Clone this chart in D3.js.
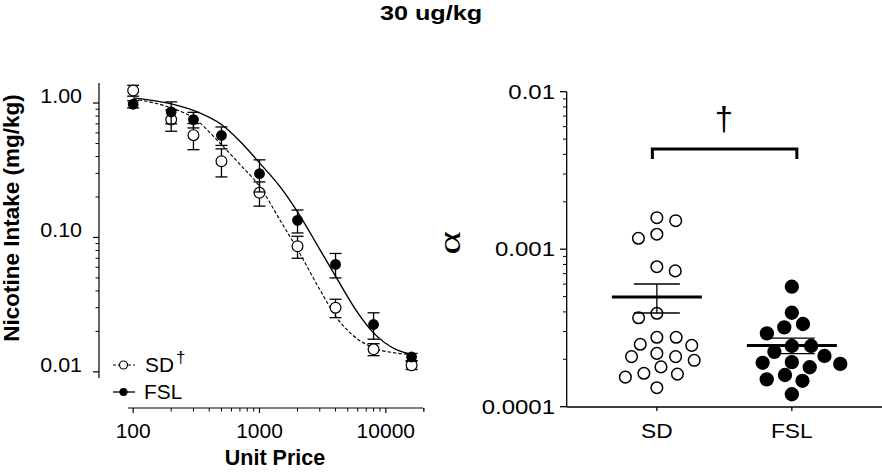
<!DOCTYPE html>
<meta charset="utf-8">
<style>
  body { margin: 0; background: #fff; }
  svg { display: block; }
  text { font-family: "Liberation Sans", Arial, sans-serif; fill: #000; }
</style>
<svg width="882" height="472"></svg>
<script src="https://cdn.jsdelivr.net/npm/d3@7"></script>
<script>

// demand curve data (unit price vs nicotine intake)
var prices = [100, 200, 300, 500, 1000, 2000, 4000, 8000, 16000];
var sdMean = [1.24, 0.753, 0.577, 0.369, 0.215, 0.086, 0.030, 0.0147, 0.0112];
var sdSem = [0.115, 0.136, 0.127, 0.087, 0.044, 0.016, 0.0047, 0.0015, 0.0008];
var fslMean = [0.98, 0.86, 0.753, 0.574, 0.298, 0.134, 0.063, 0.0225, 0.0129];
var fslSem = [0.06, 0.16, 0.10, 0.09, 0.08, 0.026, 0.013, 0.005, 0.0008];

// fitted curves
var curvePrices = [100, 200, 300, 500, 700, 1000, 1500, 2000, 3000, 4000, 6000, 8000, 12000, 16000];
var sdFit = [1.074, 0.92, 0.776, 0.49, 0.35, 0.24, 0.128, 0.0815, 0.041, 0.026, 0.0175, 0.0151, 0.0138, 0.0135];
var fslFit = [1.093, 0.986, 0.883, 0.692, 0.52, 0.359, 0.23, 0.155, 0.0815, 0.0515, 0.0275, 0.0195, 0.0147, 0.0135];

// alpha values per rat
var groups = ["SD", "FSL"];
var sdAlpha = [0.001585, 0.001517, 0.001245, 0.001173, 0.000774, 0.000728, 0.000392, 0.000367,
  0.000276, 0.000276, 0.000249, 0.000245, 0.000218, 0.000208, 0.000208, 0.000197, 0.000179,
  0.000163, 0.000161, 0.000154, 0.000132];
var fslAlpha = [0.000578, 0.000395, 0.000335, 0.000319, 0.000292, 0.000243, 0.000243, 0.000223,
  0.000210, 0.000190, 0.000192, 0.000187, 0.000178, 0.000159, 0.000146, 0.000149, 0.000120];

var leftYTicks = [0.01, 0.1, 1];
var leftYLabels = ["0.01", "0.10", "1.00"];
var leftXTicks = [100, 1000, 10000];
var rightYTicks = [0.0001, 0.001, 0.01];
var rightYLabels = ["0.0001", "0.001", "0.01"];

var svg = d3.select("svg");

function label(g, x, y, s, size, o) {
  o = o || {};
  return g.append("text")
      .attr("transform", "translate(" + x + "," + y + ")" + (o.rot ? " rotate(" + o.rot + ")" : "") + " scale(" + (o.sx || 1) + ",1)")
      .attr("text-anchor", o.anchor || "middle")
      .style("font-size", size + "px")
      .style("font-weight", o.bold ? "bold" : null)
      .style("font-family", o.family || null)
      .text(s);
}

label(svg, 431, 20, "30 ug/kg", 21, {bold: true, sx: 1.2});

// ---------- left panel ----------
var x = d3.scaleLog().domain([91, 19700]).range([128, 423]);
var y = d3.scaleLog().domain([0.009, 1.41]).range([378, 83]);

var left = svg.append("g");

var minorY = [];
[0.01, 0.1].forEach(function(d) { for (var i = 2; i <= 9; i++) minorY.push(d * i); });
var minorX = [];
[100, 1000, 10000].forEach(function(d) { for (var i = 2; i <= 9; i++) if (d * i <= 20000) minorX.push(d * i); });
minorX.push(20000);

left.append("line").attr("x1", 99).attr("x2", 99).attr("y1", 83).attr("y2", 378).attr("stroke", "#000").attr("stroke-width", 1.2);
left.selectAll(".ymaj").data(leftYTicks).enter().append("line")
    .attr("x1", 93).attr("x2", 99).attr("y1", y).attr("y2", y).attr("stroke", "#000").attr("stroke-width", 1.2);
left.selectAll(".ymin").data(minorY).enter().append("line")
    .attr("x1", 95.5).attr("x2", 99).attr("y1", y).attr("y2", y).attr("stroke", "#000").attr("stroke-width", 1);
leftYTicks.forEach(function(d, i) { label(left, 82, y(d), leftYLabels[i], 19.5, {anchor: "end", sx: 1.1}); });

left.append("line").attr("x1", 128).attr("x2", 423).attr("y1", 408).attr("y2", 408).attr("stroke", "#000").attr("stroke-width", 1.2);
left.selectAll(".xmaj").data(leftXTicks).enter().append("line")
    .attr("x1", x).attr("x2", x).attr("y1", 408).attr("y2", 413).attr("stroke", "#000").attr("stroke-width", 1.2);
left.selectAll(".xmin").data(minorX).enter().append("line")
    .attr("x1", x).attr("x2", x).attr("y1", 408).attr("y2", 411.5).attr("stroke", "#000").attr("stroke-width", 1);
leftXTicks.forEach(function(d) { label(left, x(d), 438, String(d), 20, {sx: 1.05}); });

label(left, 275, 465, "Unit Price", 21.5, {bold: true});
label(left, 19, 218, "Nicotine Intake (mg/kg)", 22.5, {bold: true, rot: -90});

var line = d3.line().x(function(d) { return x(d[0]); }).y(function(d) { return y(d[1]); }).curve(d3.curveMonotoneX);

left.append("path").datum(d3.zip(curvePrices, sdFit)).attr("d", line)
    .attr("fill", "none").attr("stroke", "#000").attr("stroke-width", 1.1).attr("stroke-dasharray", "3.5,2");
left.append("path").datum(d3.zip(curvePrices, fslFit)).attr("d", line)
    .attr("fill", "none").attr("stroke", "#000").attr("stroke-width", 1.4);

function errbars(means, sems, filled) {
  var g = left.append("g");
  prices.forEach(function(p, i) {
    var cx = x(p), top = y(means[i] + sems[i]), bot = y(Math.max(means[i] - sems[i], 1e-4));
    g.append("line").attr("x1", cx).attr("x2", cx).attr("y1", top).attr("y2", bot).attr("stroke", "#000").attr("stroke-width", 1.3);
    [top, bot].forEach(function(v) {
      g.append("line").attr("x1", cx - 6).attr("x2", cx + 6).attr("y1", v).attr("y2", v).attr("stroke", "#000").attr("stroke-width", 1.3);
    });
  });
  g.selectAll("circle").data(means).enter().append("circle")
      .attr("cx", function(d, i) { return x(prices[i]); })
      .attr("cy", y)
      .attr("r", filled ? 4.8 : 5.4)
      .attr("fill", filled ? "#000" : "#fff")
      .attr("stroke", "#000").attr("stroke-width", 1.2);
}
errbars(sdMean, sdSem, false);
errbars(fslMean, fslSem, true);

// legend
left.append("line").attr("x1", 113).attr("x2", 135).attr("y1", 365).attr("y2", 365).attr("stroke", "#000").attr("stroke-dasharray", "3,2");
left.append("circle").attr("cx", 123.5).attr("cy", 365).attr("r", 4).attr("fill", "#fff").attr("stroke", "#000").attr("stroke-width", 1.2);
label(left, 145, 372, "SD", 19.5, {anchor: "start", sx: 1.07});
label(left, 176, 363, "\u2020", 17, {anchor: "start"});
left.append("line").attr("x1", 113).attr("x2", 135).attr("y1", 392).attr("y2", 392).attr("stroke", "#000").attr("stroke-width", 1.3);
left.append("circle").attr("cx", 123.5).attr("cy", 392).attr("r", 4).attr("fill", "#000");
label(left, 144, 399, "FSL", 19.5, {anchor: "start", sx: 1.07});

// ---------- right panel ----------
var xb = d3.scalePoint().domain(groups).range([566.7, 882]).padding(0.668);
var ya = d3.scaleLog().domain([0.0001, 0.01]).range([406.7, 91.7]);
var right = svg.append("g");

var minorA = [];
[0.0001, 0.001].forEach(function(d) { for (var i = 2; i <= 9; i++) minorA.push(d * i); });

right.append("line").attr("x1", 566.7).attr("x2", 566.7).attr("y1", 91.7).attr("y2", 407).attr("stroke", "#000").attr("stroke-width", 1.3);
right.append("line").attr("x1", 566.7).attr("x2", 882).attr("y1", 407).attr("y2", 407).attr("stroke", "#000").attr("stroke-width", 1.3);
right.selectAll(".amaj").data(rightYTicks).enter().append("line")
    .attr("x1", 560).attr("x2", 566.7).attr("y1", ya).attr("y2", ya).attr("stroke", "#000").attr("stroke-width", 1.3);
right.selectAll(".amin").data(minorA).enter().append("line")
    .attr("x1", 563).attr("x2", 566.7).attr("y1", ya).attr("y2", ya).attr("stroke", "#000").attr("stroke-width", 1);
rightYTicks.forEach(function(d, i) { label(right, 555, ya(d) + 7, rightYLabels[i], 20, {anchor: "end", sx: 1.2}); });
groups.forEach(function(gname) {
  right.append("line").attr("x1", xb(gname)).attr("x2", xb(gname)).attr("y1", 407).attr("y2", 411).attr("stroke", "#000").attr("stroke-width", 1.3);
  label(right, xb(gname), 438, gname, 20, {sx: 1.14});
});
label(right, 460, 243, "\u03b1", 32, {rot: -90, sx: 1.4, family: "'Liberation Serif', 'DejaVu Serif', serif"});

// beeswarm offsets
function swarm(vals, step, vgap) {
  var order = d3.range(vals.length).sort(function(a, b) { return vals[b] - vals[a]; });
  var placed = [], out = new Array(vals.length), flip = 1;
  order.forEach(function(i) {
    var py = ya(vals[i]), iv = [];
    placed.forEach(function(p) {
      var dy = Math.abs(p.y - py);
      if (dy < vgap) { var w = step * Math.sqrt(1 - (dy / vgap) * (dy / vgap)); iv.push([p.x - w, p.x + w]); }
    });
    var cands = [0];
    iv.forEach(function(v) { cands.push(v[0], v[1]); });
    var ok = cands.filter(function(c) { return iv.every(function(v) { return c <= v[0] + 1e-6 || c >= v[1] - 1e-6; }); });
    ok.sort(function(a, b) { return Math.abs(a) - Math.abs(b) || (b - a) * flip; });
    var cx = ok[0];
    if (cx !== 0) flip = -flip;
    placed.push({x: cx, y: py});
    out[i] = cx;
  });
  return out;
}

[[sdAlpha, false], [fslAlpha, true]].forEach(function(s, gi) {
  var vals = s[0], filled = s[1], cx = xb(groups[gi]);
  var off = swarm(vals, 19.3, 13.8);
  right.append("g").selectAll("circle").data(vals).enter().append("circle")
      .attr("cx", function(d, i) { return cx + off[i]; })
      .attr("cy", ya)
      .attr("r", filled ? 6.4 : 5.8)
      .attr("fill", filled ? "#000" : "#fff")
      .attr("stroke", "#000").attr("stroke-width", 1.5);
  var m = d3.mean(vals), sem = d3.deviation(vals) / Math.sqrt(vals.length);
  right.append("line").attr("x1", cx - 45).attr("x2", cx + 45).attr("y1", ya(m)).attr("y2", ya(m)).attr("stroke", "#000").attr("stroke-width", 3);
  right.append("line").attr("x1", cx).attr("x2", cx).attr("y1", ya(m + sem)).attr("y2", ya(m - sem)).attr("stroke", "#000").attr("stroke-width", 1.3);
  [m + sem, m - sem].forEach(function(v) {
    right.append("line").attr("x1", cx - 23).attr("x2", cx + 23).attr("y1", ya(v)).attr("y2", ya(v)).attr("stroke", "#000").attr("stroke-width", 1.3);
  });
});

// significance bracket
right.append("path")
    .attr("d", "M" + (xb("SD") - 4.5) + ",159V149H" + (xb("FSL") + 5) + "V159")
    .attr("fill", "none").attr("stroke", "#000").attr("stroke-width", 3);
label(right, 724, 130, "\u2020", 33, {});
</script>
